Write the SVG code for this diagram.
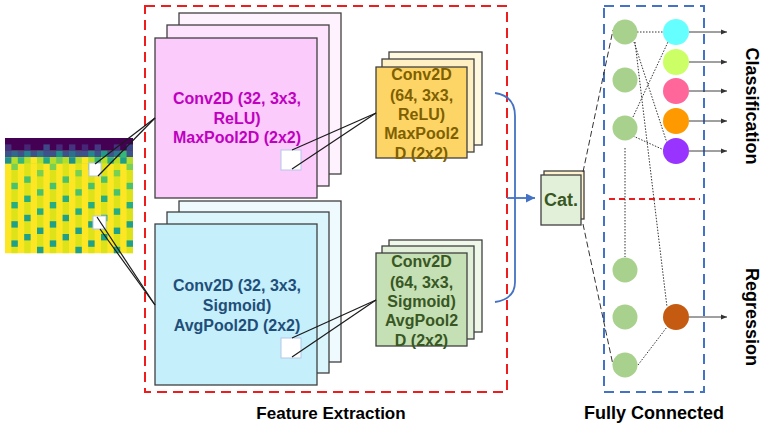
<svg xmlns="http://www.w3.org/2000/svg" width="762" height="428" viewBox="0 0 762 428">
<style>
text{font-family:"Liberation Sans",Arial,sans-serif;font-weight:bold;text-anchor:middle}
.fm{stroke:#404040;stroke-width:1.3}
.ln{stroke:#1a1a1a;stroke-width:1.2;fill:none}
.dot{stroke:#333;stroke-width:1;stroke-dasharray:1.5 1.5;fill:none}
.dsh{stroke:#333;stroke-width:1;stroke-dasharray:6 3;fill:none}
.out{stroke:#404040;stroke-width:1;marker-end:url(#ah)}
.sq{fill:#fff;stroke:#b4c7e7;stroke-width:1}
.hid{fill:#a9d18e}
.t16{font-size:16px}
.lab{font-size:17px;fill:#000}
</style>
<defs>
<marker id="ah" viewBox="0 0 10 10" refX="10" refY="5" markerWidth="6" markerHeight="6" orient="auto" markerUnits="userSpaceOnUse"><path d="M0,1 L10,5 L0,9 Z" fill="#333"/></marker>
<marker id="bh" viewBox="0 0 10 10" refX="10" refY="5" markerWidth="9" markerHeight="9" orient="auto" markerUnits="userSpaceOnUse"><path d="M0,0 L10,5 L0,10 Z" fill="#4472c4"/></marker>
</defs>

<g id="input-heatmap">
<rect x="5" y="138" width="128" height="115.2" fill="#fde725"/>
<g fill="#dde318">
<rect x="11.4" y="163.6" width="6.4" height="89.6"/><rect x="24.2" y="163.6" width="6.4" height="89.6"/><rect x="37" y="163.6" width="6.4" height="89.6"/><rect x="49.8" y="163.6" width="6.4" height="89.6"/><rect x="62.6" y="163.6" width="6.4" height="89.6"/><rect x="75.4" y="163.6" width="6.4" height="89.6"/><rect x="88.2" y="163.6" width="6.4" height="89.6"/><rect x="101" y="163.6" width="6.4" height="89.6"/><rect x="113.8" y="163.6" width="6.4" height="89.6"/><rect x="126.6" y="163.6" width="6.4" height="89.6"/>
</g>
<rect x="5" y="138" width="128" height="12.8" fill="#440154"/>
<g>
<rect x="5" y="144.4" width="6.4" height="6.4" fill="#46307e"/><rect x="24.2" y="144.4" width="6.4" height="6.4" fill="#482475"/><rect x="43.4" y="144.4" width="6.4" height="6.4" fill="#3f4788"/><rect x="56.2" y="144.4" width="6.4" height="6.4" fill="#482878"/><rect x="69" y="144.4" width="6.4" height="6.4" fill="#46337e"/><rect x="81.8" y="144.4" width="6.4" height="6.4" fill="#482677"/><rect x="94.6" y="144.4" width="6.4" height="6.4" fill="#453781"/><rect x="113.8" y="144.4" width="6.4" height="6.4" fill="#472f7d"/><rect x="126.6" y="144.4" width="6.4" height="6.4" fill="#3e4989"/>
<rect x="5" y="150.8" width="128" height="6.4" fill="#3b528b"/>
<rect x="11.4" y="150.8" width="6.4" height="6.4" fill="#31688e"/><rect x="24.2" y="150.8" width="6.4" height="6.4" fill="#26828e"/><rect x="37" y="150.8" width="6.4" height="6.4" fill="#2c728e"/><rect x="56.2" y="150.8" width="6.4" height="6.4" fill="#21918c"/><rect x="69" y="150.8" width="6.4" height="6.4" fill="#2d708e"/><rect x="88.2" y="150.8" width="6.4" height="6.4" fill="#25858e"/><rect x="101" y="150.8" width="6.4" height="6.4" fill="#1f9a8a"/><rect x="113.8" y="150.8" width="6.4" height="6.4" fill="#2a788e"/><rect x="120.2" y="150.8" width="6.4" height="6.4" fill="#35b779"/>
<rect x="5" y="157.2" width="128" height="6.4" fill="#b5de2b"/>
<rect x="5" y="157.2" width="6.4" height="6.4" fill="#21918c"/><rect x="17.8" y="157.2" width="6.4" height="6.4" fill="#35b779"/><rect x="30.6" y="157.2" width="6.4" height="6.4" fill="#fde725"/><rect x="43.4" y="157.2" width="6.4" height="6.4" fill="#22a884"/><rect x="56.2" y="157.2" width="6.4" height="6.4" fill="#6ece58"/><rect x="69" y="157.2" width="6.4" height="6.4" fill="#21918c"/><rect x="81.8" y="157.2" width="6.4" height="6.4" fill="#fde725"/><rect x="94.6" y="157.2" width="6.4" height="6.4" fill="#35b779"/><rect x="107.4" y="157.2" width="6.4" height="6.4" fill="#29af7f"/><rect x="120.2" y="157.2" width="6.4" height="6.4" fill="#1f9e89"/>
</g>
<g fill="#7ad151">
<rect x="11.4" y="163.6" width="6.4" height="6.4"/><rect x="49.8" y="163.6" width="6.4" height="6.4"/><rect x="88.2" y="163.6" width="6.4" height="6.4"/><rect x="126.6" y="163.6" width="6.4" height="6.4"/>
<rect x="37" y="170" width="6.4" height="6.4"/><rect x="75.4" y="170" width="6.4" height="6.4"/><rect x="113.8" y="170" width="6.4" height="6.4"/>
</g>
<g fill="#4ac16d">
<rect x="24.2" y="176.4" width="6.4" height="6.4"/><rect x="62.6" y="176.4" width="6.4" height="6.4"/><rect x="101" y="176.4" width="6.4" height="6.4"/>
<rect x="11.4" y="182.8" width="6.4" height="6.4"/><rect x="49.8" y="182.8" width="6.4" height="6.4"/><rect x="88.2" y="182.8" width="6.4" height="6.4"/><rect x="126.6" y="182.8" width="6.4" height="6.4"/>
<rect x="37" y="189.2" width="6.4" height="6.4"/><rect x="75.4" y="189.2" width="6.4" height="6.4"/><rect x="113.8" y="189.2" width="6.4" height="6.4"/>
</g>
<g fill="#26ad81">
<rect x="24.2" y="195.6" width="6.4" height="6.4"/><rect x="62.6" y="195.6" width="6.4" height="6.4"/><rect x="101" y="195.6" width="6.4" height="6.4"/>
<rect x="11.4" y="202" width="6.4" height="6.4"/><rect x="49.8" y="202" width="6.4" height="6.4"/><rect x="88.2" y="202" width="6.4" height="6.4"/><rect x="126.6" y="202" width="6.4" height="6.4"/>
<rect x="37" y="208.4" width="6.4" height="6.4"/><rect x="75.4" y="208.4" width="6.4" height="6.4"/><rect x="113.8" y="208.4" width="6.4" height="6.4"/>
</g>
<g fill="#1fa088">
<rect x="24.2" y="214.8" width="6.4" height="6.4"/><rect x="62.6" y="214.8" width="6.4" height="6.4"/><rect x="101" y="214.8" width="6.4" height="6.4"/>
<rect x="11.4" y="221.2" width="6.4" height="6.4"/><rect x="49.8" y="221.2" width="6.4" height="6.4"/><rect x="88.2" y="221.2" width="6.4" height="6.4"/><rect x="126.6" y="221.2" width="6.4" height="6.4"/>
<rect x="37" y="227.6" width="6.4" height="6.4"/><rect x="75.4" y="227.6" width="6.4" height="6.4"/><rect x="113.8" y="227.6" width="6.4" height="6.4"/>
<rect x="24.2" y="234" width="6.4" height="6.4"/><rect x="62.6" y="234" width="6.4" height="6.4"/><rect x="101" y="234" width="6.4" height="6.4"/>
<rect x="11.4" y="240.4" width="6.4" height="6.4"/><rect x="49.8" y="240.4" width="6.4" height="6.4"/><rect x="88.2" y="240.4" width="6.4" height="6.4"/><rect x="126.6" y="240.4" width="6.4" height="6.4"/>
<rect x="37" y="246.8" width="6.4" height="6.4"/><rect x="75.4" y="246.8" width="6.4" height="6.4"/><rect x="113.8" y="246.8" width="6.4" height="6.4"/>
</g>
<rect class="sq" x="89" y="163" width="12" height="13"/>
<rect class="sq" x="93" y="216" width="13" height="13"/>
</g>

<rect id="feature-extraction-box" x="145" y="6" width="362" height="386" fill="none" stroke="#ee1c1c" stroke-width="2" stroke-dasharray="10 6"/>

<g id="conv-relu">
<rect class="fm" x="179" y="13" width="162" height="161" fill="#fef2fe"/>
<rect class="fm" x="167" y="25" width="162" height="161" fill="#fde3fd"/>
<rect class="fm" x="155" y="38" width="162" height="160" fill="#fbcbfb"/>
<text class="t16" fill="#c000c0"><tspan x="237" y="104">Conv2D (32, 3x3,</tspan><tspan x="237" y="124">ReLU)</tspan><tspan x="237" y="143">MaxPool2D (2x2)</tspan></text>
<rect class="sq" x="281" y="150" width="20" height="20"/>
</g>

<g id="conv-sigmoid">
<rect class="fm" x="179" y="201" width="162" height="161" fill="#eefafe"/>
<rect class="fm" x="167" y="212" width="162" height="161" fill="#daf5fc"/>
<rect class="fm" x="155" y="224" width="162" height="161" fill="#c5effb"/>
<text class="t16" fill="#1f4e79"><tspan x="237" y="291">Conv2D (32, 3x3,</tspan><tspan x="237" y="311">Sigmoid)</tspan><tspan x="237" y="331">AvgPool2D  (2x2)</tspan></text>
<rect class="sq" x="281" y="338" width="20" height="20"/>
</g>

<g id="conv64-relu">
<rect class="fm" x="389" y="52" width="93" height="93" fill="#fff9e0"/>
<rect class="fm" x="382" y="59" width="92" height="93" fill="#fff0c4"/>
<rect class="fm" x="376" y="67" width="91" height="91" fill="#fdd566"/>
<text class="t16" fill="#7f6000"><tspan x="421.5" y="80">Conv2D</tspan><tspan x="421.5" y="101">(64, 3x3,</tspan><tspan x="421.5" y="120">ReLU)</tspan><tspan x="421.5" y="139">MaxPool2</tspan><tspan x="421.5" y="159">D (2x2)</tspan></text>
</g>

<g id="conv64-sigmoid">
<rect class="fm" x="389" y="240" width="93" height="92" fill="#f0f8ea"/>
<rect class="fm" x="382" y="246" width="92" height="93" fill="#e2f0d9"/>
<rect class="fm" x="376" y="253" width="91" height="93" fill="#c5e0b4"/>
<text class="t16" fill="#385723"><tspan x="421.5" y="267">Conv2D</tspan><tspan x="421.5" y="288">(64, 3x3,</tspan><tspan x="421.5" y="307">Sigmoid)</tspan><tspan x="421.5" y="326">AvgPool2</tspan><tspan x="421.5" y="346">D (2x2)</tspan></text>
</g>

<g id="concat">
<rect class="fm" x="544" y="171" width="40" height="48" fill="#fff2cc"/>
<rect class="fm" x="541" y="175" width="40" height="50" fill="#e2f0d9"/>
<text x="561" y="206" font-size="18" fill="#385723">Cat.</text>
</g>

<rect id="fully-connected-box" x="604" y="6" width="100" height="386" fill="none" stroke="#4472c4" stroke-width="2" stroke-dasharray="10 6"/>
<line x1="609" y1="199" x2="700" y2="199" stroke="#ee1c1c" stroke-width="2" stroke-dasharray="6 4"/>

<g id="connectors">
<line class="ln" x1="95" y1="164" x2="155" y2="118"/>
<line class="ln" x1="98" y1="176" x2="155" y2="118"/>
<line class="ln" x1="97" y1="217" x2="155" y2="305"/>
<line class="ln" x1="100" y1="229" x2="155" y2="305"/>
<line class="ln" x1="292" y1="150" x2="376" y2="113"/>
<line class="ln" x1="292" y1="169" x2="376" y2="113"/>
<line class="ln" x1="292" y1="338" x2="376" y2="300"/>
<line class="ln" x1="292" y1="357" x2="376" y2="300"/>
<path d="M495,93 Q515,96 515,116 L515,282 Q515,299 495,302" fill="none" stroke="#4472c4" stroke-width="1.8"/>
<line x1="507" y1="198" x2="535" y2="198" stroke="#4472c4" stroke-width="1.8" marker-end="url(#bh)"/>
<line class="dsh" x1="583" y1="172" x2="613" y2="30"/>
<line class="dsh" x1="583" y1="224" x2="613" y2="365"/>
<line class="dot" x1="637" y1="32" x2="663" y2="32"/>
<line class="dot" x1="634" y1="42" x2="667" y2="143"/>
<line class="dot" x1="635" y1="42" x2="667" y2="307"/>
<line class="dot" x1="633" y1="117" x2="668" y2="42"/>
<line class="dot" x1="633" y1="136" x2="664" y2="150"/>
<line class="dot" x1="625" y1="148" x2="625" y2="257"/>
<line class="dot" x1="638" y1="365" x2="667" y2="327"/>
<line class="out" x1="689" y1="32" x2="727" y2="32"/>
<line class="out" x1="689" y1="62" x2="727" y2="62"/>
<line class="out" x1="689" y1="91" x2="727" y2="91"/>
<line class="out" x1="689" y1="121" x2="727" y2="121"/>
<line class="out" x1="689" y1="151" x2="727" y2="151"/>
<line class="out" x1="689" y1="317" x2="727" y2="317"/>
</g>

<g id="hidden-1"><circle class="hid" cx="625" cy="32" r="12.5"/></g>
<g id="hidden-2"><circle class="hid" cx="625" cy="80" r="12.5"/></g>
<g id="hidden-3"><circle class="hid" cx="625" cy="128" r="12.5"/></g>
<g id="hidden-4"><circle class="hid" cx="625" cy="270" r="12.5"/></g>
<g id="hidden-5"><circle class="hid" cx="625" cy="317" r="12.5"/></g>
<g id="hidden-6"><circle class="hid" cx="625" cy="365" r="12.5"/></g>
<g id="class-1"><circle cx="676" cy="32" r="13" fill="#66ffff"/></g>
<g id="class-2"><circle cx="676" cy="62" r="13" fill="#ccff66"/></g>
<g id="class-3"><circle cx="676" cy="91" r="13" fill="#ff6699"/></g>
<g id="class-4"><circle cx="676" cy="121" r="13" fill="#ff9900"/></g>
<g id="class-5"><circle cx="676" cy="151" r="13" fill="#9933ff"/></g>
<g id="regression-out"><circle cx="676" cy="317" r="13" fill="#c55a11"/></g>

<text transform="translate(746,106) rotate(90)" font-size="18" fill="#000">Classification</text>
<text transform="translate(746,317) rotate(90)" font-size="18" fill="#000">Regression</text>
<text class="lab" x="331" y="419">Feature Extraction</text>
<text x="654" y="419" font-size="18" fill="#000">Fully Connected</text>
</svg>
